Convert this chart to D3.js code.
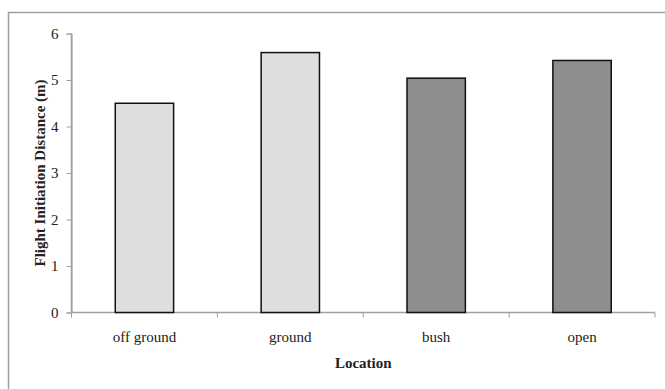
<!DOCTYPE html>
<html>
<head>
<meta charset="utf-8">
<script src="https://cdn.jsdelivr.net/npm/d3@7"></script>
<style>
body { margin:0; background:#fff; }
text { font-family: "Liberation Serif", "DejaVu Serif", serif; }
.axis path, .axis line { stroke:#a0a0a0; }
</style>
</head>
<body>
<svg id="chart" width="665" height="389"></svg>
<script>
// data
let categories = ["off ground", "ground", "bush", "open"];
let values = [4.5, 5.59, 5.04, 5.42];
let yTicks = [0, 1, 2, 3, 4, 5, 6];
let fills = ["#dedede", "#dedede", "#8e8e8e", "#8e8e8e"];

let svg = d3.select('#chart');
let margin = {top:33.5, left:71.5, right:10, bottom:76.5};
let width = 655 - margin.left, height = 312.5 - margin.top;

// outer frame
svg.append('rect').attr('x',8.5).attr('y',12.5).attr('width',700).attr('height',400)
    .attr('fill','none').attr('stroke','#a0a0a0').attr('stroke-width',1.5);

let g = svg.append('g').attr('transform','translate('+margin.left+','+margin.top+')');

var x = d3.scaleBand().domain(categories).range([0, width]).paddingInner(0.6).paddingOuter(0.3);
var y = d3.scaleLinear().domain([0, 6]).range([height, 0]);

var yAxis = d3.axisLeft(y).tickValues(yTicks).tickFormat(d3.format('d')).tickSize(5).tickPadding(8).tickSizeOuter(5);
let yg = g.append('g').attr('class','axis').call(yAxis);
yg.selectAll('text').attr('font-size',15).attr('fill','#222');

// x axis: ticks at category boundaries
let xg = g.append('g').attr('class','axis').attr('transform','translate(0,'+height+')');
xg.append('line').attr('x1',0).attr('x2',width).attr('stroke','#a0a0a0').attr('stroke-width',1.5);
let bounds = d3.range(categories.length+1).map(function(i){ return i*x.step(); });
xg.selectAll('.tk').data(bounds).enter().append('line')
    .attr('x1',d=>d).attr('x2',d=>d).attr('y1',0).attr('y2',5).attr('stroke','#a0a0a0');
xg.selectAll('.lbl').data(categories).enter().append('text')
    .attr('x',d=>x(d)+x.bandwidth()/2).attr('y',29.5)
    .attr('text-anchor','middle').attr('font-size',15).attr('fill','#222').text(d=>d);

// bars
g.selectAll('.bar').data(values).enter().append('rect')
    .attr('class','bar')
    .attr('x',(d,i)=>x(categories[i]))
    .attr('y',d=>y(d))
    .attr('width',x.bandwidth())
    .attr('height',d=>height-y(d))
    .attr('fill',(d,i)=>fills[i])
    .attr('stroke','#111').attr('stroke-width',1.5);

// y axis line over the bar bases
g.append('line').attr('x1',0).attr('x2',0).attr('y1',0).attr('y2',height).attr('stroke','#a0a0a0').attr('stroke-width',1.5);

// axis titles
g.append('text').attr('x',width/2).attr('y',height+55.5).attr('text-anchor','middle')
    .attr('font-size',15).attr('font-weight','bold').attr('fill','#222').text('Location');
g.append('text').attr('transform','translate(-26.5,'+(height/2)+') rotate(-90)')
    .attr('text-anchor','middle').attr('font-size',15).attr('font-weight','bold').attr('fill','#222')
    .text('Flight Initiation Distance (m)');
</script>
</body>
</html>
